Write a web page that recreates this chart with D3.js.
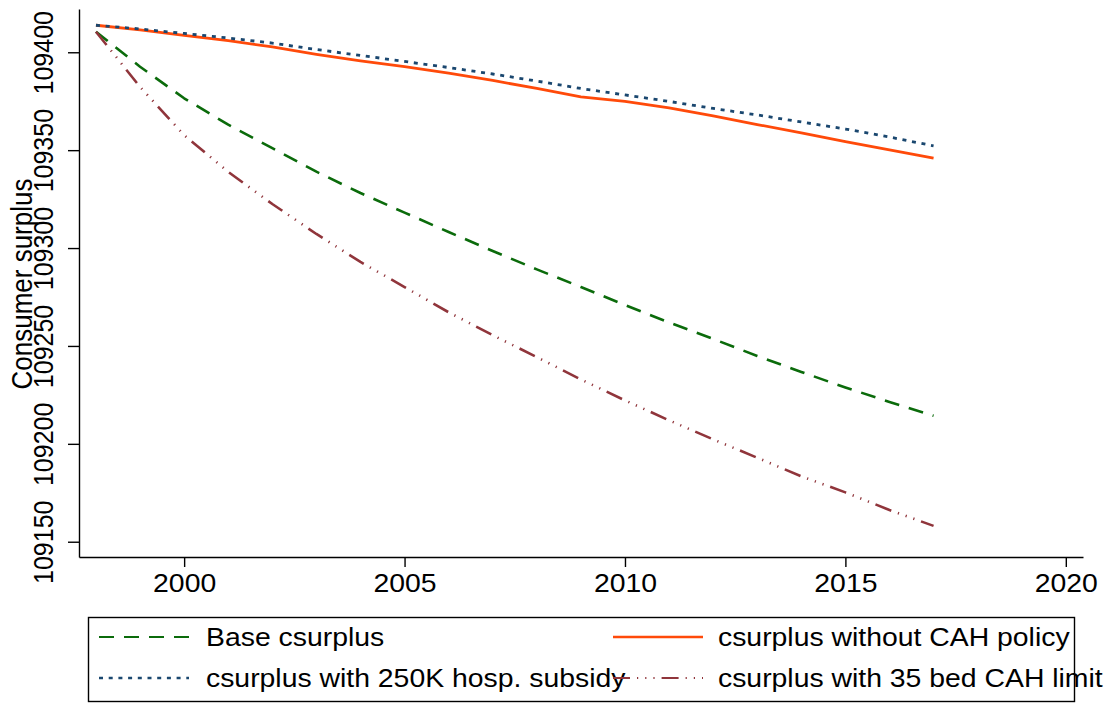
<!DOCTYPE html>
<html>
<head>
<meta charset="utf-8">
<script src="https://cdn.jsdelivr.net/npm/d3@7"></script>
<style>
  html, body { margin: 0; padding: 0; background: #fff; }
  svg { display: block; }
  text { font-family: "Liberation Sans", Arial, Helvetica, sans-serif; fill: #000; }
</style>
</head>
<body>
<svg id="chart" width="1117" height="703"></svg>
<script>
// Years simulated
const years = [1998, 1999, 2000, 2001, 2002, 2003, 2004, 2005, 2006, 2007,
               2008, 2009, 2010, 2011, 2012, 2013, 2014, 2015, 2016, 2017];

// Consumer surplus under each scenario
const baseCsurplus = [109410.5, 109392.6, 109376.5, 109363.0, 109351.0, 109339.0, 109328.1, 109318.1, 109308.2, 109298.5,
                      109289.1, 109280.1, 109270.9, 109262.0, 109253.6, 109244.9, 109236.7, 109228.8, 109221.4, 109214.3];
const noCahPolicy  = [109413.8, 109411.4, 109408.6, 109406.0, 109402.7, 109398.9, 109395.6, 109392.7, 109389.4, 109385.6,
                      109381.5, 109377.2, 109374.9, 109371.6, 109367.5, 109363.1, 109358.8, 109354.4, 109350.1, 109345.9];
const hospSubsidy  = [109413.8, 109411.9, 109409.6, 109407.3, 109404.7, 109401.4, 109398.4, 109395.3, 109392.2, 109388.9,
                      109385.3, 109381.5, 109378.2, 109374.9, 109371.3, 109368.0, 109364.4, 109360.8, 109356.7, 109352.2];
const bedLimit35   = [109410.5, 109382.3, 109357.7, 109338.9, 109322.5, 109307.2, 109292.9, 109280.1, 109267.2, 109255.5,
                      109244.3, 109232.9, 109222.2, 109212.0, 109202.3, 109192.9, 109183.4, 109175.2, 109166.2, 109158.1];

const seriesNames = ["Base csurplus", "csurplus without CAH policy",
                     "csurplus with 250K hosp. subsidy", "csurplus with 35 bed CAH limit"];

const xTicks = [2000, 2005, 2010, 2015, 2020];
const yTicks = [109150, 109200, 109250, 109300, 109350, 109400];
const yTitle = "Consumer surplus";

// Line styles per series
const styles = [
  { color: "#0b6b0b", width: 2.6, dash: "15,10" },
  { color: "#ff4a0a", width: 2.8, dash: null },
  { color: "#1a476f", width: 2.8, dash: "4,5.7" },
  { color: "#90353b", width: 2.6, dash: "17,7,1.2,7,1.2,7,1.2,7" }
];

const series = [baseCsurplus, noCahPolicy, hospSubsidy, bedLimit35].map((vals, i) => ({
  name: seriesNames[i],
  style: styles[i],
  points: years.map((y, j) => ({ year: y, value: vals[j] }))
}));

const FONT = 25;
const STRETCH = 1.135;   // text is slightly wider than tall

const svg = d3.select("#chart");

const x = d3.scaleLinear().domain([1997.615, 2020.39]).range([79, 1083]);
const y = d3.scaleLinear().domain([109142.2, 109422.1]).range([557, 9]);

// Plot lines
const line = d3.line().x(d => x(d.year)).y(d => y(d.value));
svg.append("g").selectAll("path")
  .data(series)
  .join("path")
  .attr("d", d => line(d.points))
  .attr("fill", "none")
  .attr("stroke", d => d.style.color)
  .attr("stroke-width", d => d.style.width)
  .attr("stroke-dasharray", d => d.style.dash)
  .attr("stroke-linejoin", "round");

// X axis
const xAxis = svg.append("g")
  .attr("transform", "translate(0,557)")
  .call(d3.axisBottom(x).tickValues(xTicks).tickFormat(d3.format("d")).tickSize(10).tickSizeOuter(0));
xAxis.select(".domain").attr("stroke", "#000").attr("stroke-width", 1.4);
xAxis.selectAll(".tick line").attr("stroke", "#000").attr("stroke-width", 1.4);
xAxis.selectAll(".tick text")
  .attr("y", null).attr("dy", null)
  .attr("font-size", FONT)
  .attr("font-family", null)
  .attr("fill", "#000")
  .attr("text-anchor", "middle")
  .attr("transform", `translate(0,35) scale(${STRETCH},1)`);

// Y axis
const yAxis = svg.append("g")
  .attr("transform", "translate(79,0)")
  .call(d3.axisLeft(y).tickValues(yTicks).tickFormat(d3.format("d")).tickSize(11).tickSizeOuter(0));
yAxis.select(".domain").attr("stroke", "#000").attr("stroke-width", 1.4);
yAxis.selectAll(".tick line").attr("stroke", "#000").attr("stroke-width", 1.4);
yAxis.selectAll(".tick text")
  .attr("x", null).attr("dy", null)
  .attr("font-size", FONT)
  .attr("font-family", null)
  .attr("fill", "#000")
  .attr("text-anchor", "middle")
  .attr("transform", `translate(-26,0) scale(${STRETCH},1) rotate(-90)`);

// Y axis title
svg.append("text")
  .attr("transform", `translate(32,284) scale(${STRETCH},1) rotate(-90)`)
  .attr("text-anchor", "middle")
  .attr("font-size", 26)
  .text(yTitle);

// Legend
const legend = svg.append("g");
legend.append("rect")
  .attr("x", 88.5).attr("y", 617.5)
  .attr("width", 986).attr("height", 84)
  .attr("fill", "none")
  .attr("stroke", "#000")
  .attr("stroke-width", 1.4);

const cols = [{ key0: 99, key1: 189, text: 206 }, { key0: 613, key1: 703, text: 718 }];
const rows = [{ key: 637, base: 645.5 }, { key: 678, base: 686.5 }];

const items = legend.selectAll("g.item")
  .data(series)
  .join("g")
  .attr("class", "item");

items.append("line")
  .attr("x1", (d, i) => cols[i % 2].key0)
  .attr("x2", (d, i) => cols[i % 2].key1)
  .attr("y1", (d, i) => rows[Math.floor(i / 2)].key)
  .attr("y2", (d, i) => rows[Math.floor(i / 2)].key)
  .attr("stroke", d => d.style.color)
  .attr("stroke-width", d => d.style.width * 0.85)
  .attr("stroke-dasharray", d => d.style.dash);

items.append("text")
  .attr("transform", (d, i) => `translate(${cols[i % 2].text},${rows[Math.floor(i / 2)].base}) scale(${STRETCH},1)`)
  .attr("font-size", FONT)
  .text(d => d.name);
</script>
</body>
</html>
